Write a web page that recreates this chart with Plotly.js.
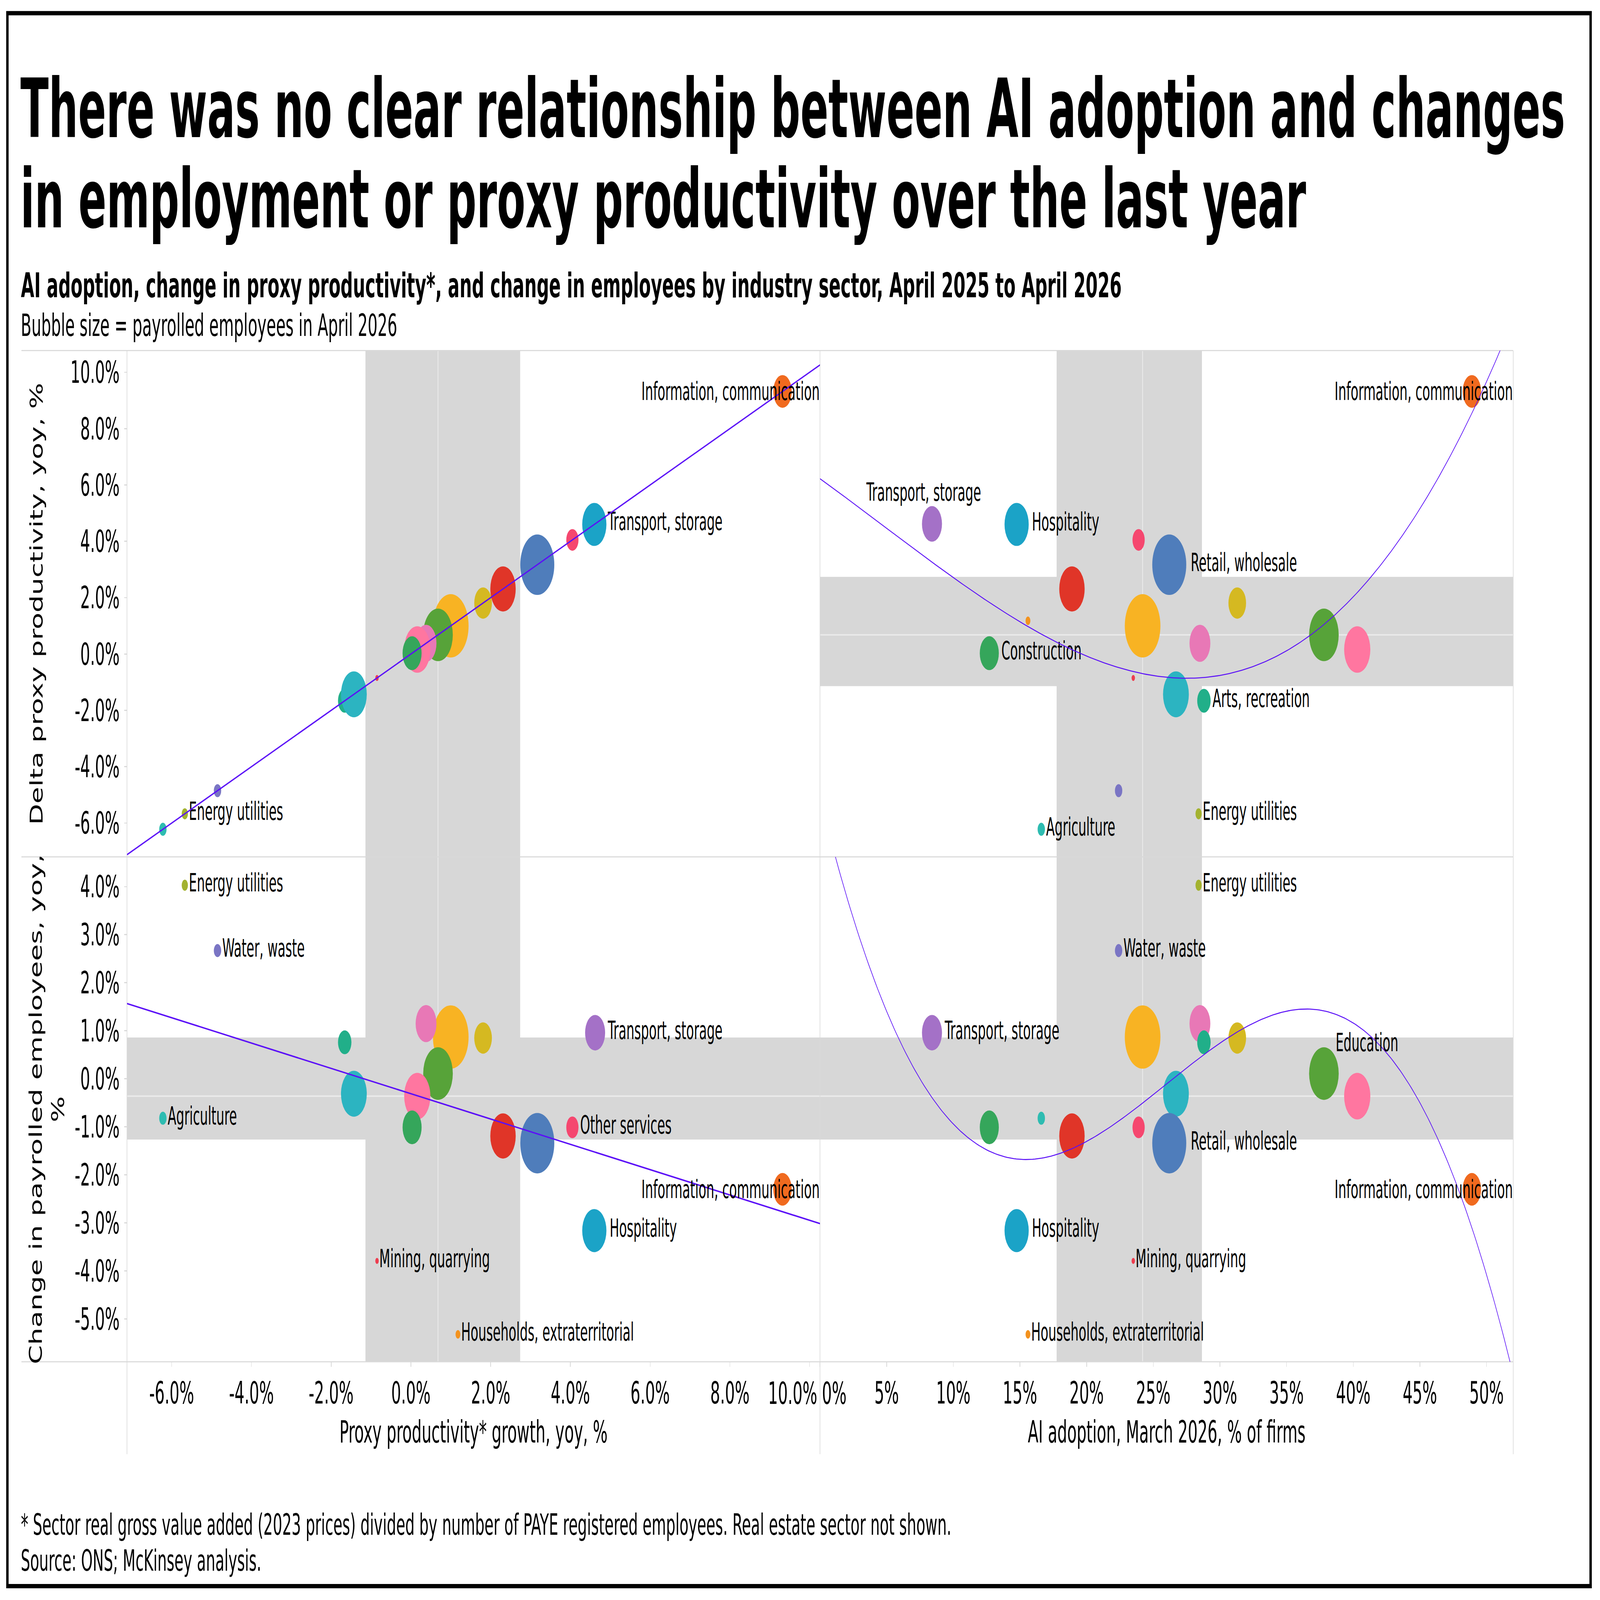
<!DOCTYPE html>
<html>
<head>
<meta charset="utf-8">
<script src="https://cdn.plot.ly/plotly-3.0.1.min.js"></script>
<style>
  html, body { margin: 0; background: #fff; overflow: hidden; }
  #chart { width: 8000px; height: 4500px; transform-origin: 0 0; }
</style>
</head>
<body>
<div id="chart"></div>
<script>
// ---- data ----
const sectors = [
  "Households, extraterritorial", "Health, social work", "Education", "Public administration",
  "Professional, scientific", "Construction", "Arts, recreation", "Administrative, support",
  "Retail, wholesale", "Manufacturing", "Finance, insurance", "Transport, storage",
  "Hospitality", "Other services", "Information, communication", "Mining, quarrying",
  "Water, waste", "Energy utilities", "Agriculture"
];
// proxy productivity growth, yoy, %
const prodGrowth = [1.18, 1.00, 0.68, 0.38, 0.16, 0.03, -1.66, -1.43, 3.17, 2.31,
  1.81, 4.62, 4.60, 4.05, 9.32, -0.85, -4.85, -5.67, -6.22];
// AI adoption, March 2026, % of firms
const aiAdoption = [15.6, 24.2, 37.8, 28.5, 40.3, 12.7, 28.8, 26.7, 26.2, 18.9,
  31.3, 8.4, 14.75, 23.9, 48.9, 23.5, 22.4, 28.4, 16.6];
// change in payrolled employees, yoy, %
const empChange = [-5.32, 0.87, 0.11, 1.15, -0.36, -1.01, 0.76, -0.31, -1.34, -1.19,
  0.85, 0.96, -3.16, -1.01, -2.30, -3.79, 2.67, 4.03, -0.82];
// payrolled employees, April 2026, thousands (bubble size)
const employees = [90, 4940, 3410, 1690, 2670, 1410, 700, 2590, 4500, 2510,
  1210, 1560, 2280, 580, 1320, 45, 210, 150, 210];
const colors = ["#f3921e", "#f8b323", "#57a339", "#e878b6", "#ff76a0", "#35a65b", "#21af89", "#2cb4c1",
  "#4f7dbb", "#e03528", "#d5b921", "#a471c7", "#1ba3c7", "#f5476f", "#f06a1f", "#ee3d4f",
  "#7a75c4", "#a3b22f", "#2ebcb1"];

// labelled sectors per panel
const labelsTopLeft = ["Information, communication", "Transport, storage", "Energy utilities"];
const labelsTopRight = ["Information, communication", "Transport, storage", "Hospitality", "Retail, wholesale",
  "Construction", "Arts, recreation", "Agriculture", "Energy utilities"];
const labelsBottomLeft = ["Energy utilities", "Water, waste", "Agriculture", "Transport, storage", "Other services",
  "Information, communication", "Hospitality", "Mining, quarrying", "Households, extraterritorial"];
const labelsBottomRight = ["Energy utilities", "Water, waste", "Transport, storage", "Education", "Retail, wholesale",
  "Information, communication", "Hospitality", "Mining, quarrying", "Households, extraterritorial"];

// tick values
const prodTicks = [-6, -4, -2, 0, 2, 4, 6, 8, 10];
const aiTicks = [0, 5, 10, 15, 20, 25, 30, 35, 40, 45, 50];
const empTicks = [-5, -4, -3, -2, -1, 0, 1, 2, 3, 4];

// ---- layout helpers (everything laid out on an 8000x4500 canvas) ----
const W = 8000, H = 4500;
const FONT = '"DejaVu Sans Condensed", "DejaVu Sans", sans-serif';
const px = x => x / W;
const py = y => 1 - y / H;

const colLeft = [px(635), px(4100)];
const colRight = [px(4100), px(7566)];
const rowTop = [py(2410), py(986)];
const rowBottom = [py(3830), py(2410)];

const prodRange = [-7.12, 10.26];
const aiRange = [0, 52];
const prodYRange = [-7.2, 10.77];
const empRange = [-5.89, 4.62];

const LINE_GREY = "#d9d9d9";
const BAND = "#d7d7d7";
const MEDIAN = "#ebebeb";
const TREND = "#5b10f7";
const LABEL_SIZE = 70;
const labelFont = { family: FONT, size: LABEL_SIZE, color: "#000" };

function quantile(values, p) {
  const s = values.slice().sort((a, b) => a - b);
  const h = (s.length - 1) * p;
  const lo = Math.floor(h);
  return lo + 1 < s.length ? s[lo] + (h - lo) * (s[lo + 1] - s[lo]) : s[lo];
}

// least squares polynomial fit, returns coefficients c0..cdeg
function polyfit(xs, ys, deg) {
  const n = deg + 1;
  const A = Array.from({ length: n }, () => new Array(n + 1).fill(0));
  for (let k = 0; k < xs.length; k++) {
    for (let i = 0; i < n; i++) {
      for (let j = 0; j < n; j++) A[i][j] += Math.pow(xs[k], i + j);
      A[i][n] += Math.pow(xs[k], i) * ys[k];
    }
  }
  for (let c = 0; c < n; c++) {
    let p = c;
    for (let r = c + 1; r < n; r++) if (Math.abs(A[r][c]) > Math.abs(A[p][c])) p = r;
    [A[c], A[p]] = [A[p], A[c]];
    for (let r = 0; r < n; r++) {
      if (r === c) continue;
      const f = A[r][c] / A[c][c];
      for (let k = c; k <= n; k++) A[r][k] -= f * A[c][k];
    }
  }
  return A.map((row, i) => row[n] / row[i]);
}
const polyval = (c, x) => c.reduce((acc, ci, i) => acc + ci * Math.pow(x, i), 0);

// where a bubble label goes: a textposition, or an annotation spec
function placement(panel, name) {
  if (name === "Information, communication") return { edge: true };
  if (panel === "TR" && name === "Transport, storage") return { xanchor: "center", xshift: -41, yshift: 89 };
  if (panel === "BR" && name === "Education") return { xanchor: "left", xshift: 56, yshift: 87 };
  return "middle right";
}

const panels = [
  { id: "TL", xa: "x", ya: "y", xs: prodGrowth, ys: prodGrowth, deg: 1, width: 4.2, labels: labelsTopLeft, xr: prodRange, xBand: prodGrowth, yBand: null },
  { id: "TR", xa: "x2", ya: "y2", xs: aiAdoption, ys: prodGrowth, deg: 3, width: 2.8, labels: labelsTopRight, xr: aiRange, xBand: aiAdoption, yBand: prodGrowth },
  { id: "BL", xa: "x3", ya: "y3", xs: prodGrowth, ys: empChange, deg: 1, width: 4.2, labels: labelsBottomLeft, xr: prodRange, xBand: prodGrowth, yBand: empChange },
  { id: "BR", xa: "x4", ya: "y4", xs: aiAdoption, ys: empChange, deg: 3, width: 2.8, labels: labelsBottomRight, xr: aiRange, xBand: aiAdoption, yBand: empChange }
];

const traces = [];
const annotations = [];
const bandShapes = [];
const medianShapes = [];

panels.forEach(p => {
  const text = sectors.map(s => (p.labels.includes(s) && typeof placement(p.id, s) === "string" ? s : ""));
  const textpos = sectors.map(s => (typeof placement(p.id, s) === "string" ? placement(p.id, s) : "middle right"));

  traces.push({
    type: "scatter", mode: "markers+text", xaxis: p.xa, yaxis: p.ya,
    x: p.xs, y: p.ys, text: text, textposition: textpos,
    customdata: sectors, hovertemplate: "%{customdata}<extra></extra>",
    textfont: labelFont,
    marker: { size: employees, sizemode: "area", sizeref: 0.3114, color: colors, opacity: 1, line: { width: 0 } },
    cliponaxis: false, showlegend: false
  });

  const coef = polyfit(p.xs, p.ys, p.deg);
  const cx = [], cy = [];
  const steps = p.deg === 1 ? 1 : 300;
  for (let i = 0; i <= steps; i++) {
    const x = p.xr[0] + (p.xr[1] - p.xr[0]) * i / steps;
    cx.push(x);
    cy.push(polyval(coef, x));
  }
  traces.push({
    type: "scatter", mode: "lines", xaxis: p.xa, yaxis: p.ya, x: cx, y: cy,
    line: { color: TREND, width: p.width }, hoverinfo: "skip", showlegend: false
  });

  // labels that Plotly's textposition cannot place
  p.labels.forEach(s => {
    const pl = placement(p.id, s);
    if (typeof pl === "string") return;
    const i = sectors.indexOf(s);
    if (pl.edge) {
      // pinned to the right edge of the panel, running over its bubble
      annotations.push({ xref: p.xa + " domain", yref: p.ya, x: 1, y: p.ys[i], xanchor: "right", yanchor: "middle",
        text: s, showarrow: false, font: labelFont });
    } else {
      annotations.push({ xref: p.xa, yref: p.ya, x: p.xs[i], y: p.ys[i], xanchor: pl.xanchor, yanchor: "middle",
        xshift: pl.xshift, yshift: pl.yshift, text: s, showarrow: false, font: labelFont });
    }
  });

  // interquartile bands and medians
  const xq = [quantile(p.xBand, 0.25), quantile(p.xBand, 0.5), quantile(p.xBand, 0.75)];
  bandShapes.push({ type: "rect", layer: "below", xref: p.xa, yref: p.ya + " domain", x0: xq[0], x1: xq[2], y0: 0, y1: 1, fillcolor: BAND, line: { width: 0 } });
  medianShapes.push({ type: "line", layer: "below", xref: p.xa, yref: p.ya + " domain", x0: xq[1], x1: xq[1], y0: 0, y1: 1, line: { color: MEDIAN, width: 4 } });
  if (p.yBand) {
    const yq = [quantile(p.yBand, 0.25), quantile(p.yBand, 0.5), quantile(p.yBand, 0.75)];
    bandShapes.push({ type: "rect", layer: "below", xref: p.xa + " domain", yref: p.ya, x0: 0, x1: 1, y0: yq[0], y1: yq[2], fillcolor: BAND, line: { width: 0 } });
    medianShapes.push({ type: "line", layer: "below", xref: p.xa + " domain", yref: p.ya, x0: 0, x1: 1, y0: yq[1], y1: yq[1], line: { color: MEDIAN, width: 4 } });
  }
});

// empty traces so the overlay axes carrying the two edge tick labels get drawn
traces.push({ type: "scatter", mode: "markers", x: [], y: [], xaxis: "x5", yaxis: "y3", showlegend: false, hoverinfo: "skip" });
traces.push({ type: "scatter", mode: "markers", x: [], y: [], xaxis: "x6", yaxis: "y4", showlegend: false, hoverinfo: "skip" });

// panel frame lines
const gridShapes = [];
[986, 2410, 3830].forEach(y => gridShapes.push({ type: "line", layer: "below", xref: "paper", yref: "paper", x0: px(107), x1: px(7566), y0: py(y), y1: py(y), line: { color: LINE_GREY, width: 3 } }));
[635, 4100, 7566].forEach(x => gridShapes.push({ type: "line", layer: "below", xref: "paper", yref: "paper", x0: px(x), x1: px(x), y0: py(986), y1: py(4090), line: { color: LINE_GREY, width: 3 } }));
const frame = { type: "rect", layer: "above", xref: "paper", yref: "paper", x0: px(37), x1: px(7953), y0: py(4461), y1: py(37), line: { color: "#000", width: 12 }, fillcolor: "rgba(0,0,0,0)" };

const pctLabel = (v, digits) => v.toFixed(digits) + "%";
const lastProd = prodTicks[prodTicks.length - 1];
const firstAi = aiTicks[0];

const tickFont = { family: FONT, size: 86, color: "#000" };
const baseAxis = { showgrid: false, zeroline: false, showline: false, ticks: "", showticklabels: false, fixedrange: true };
const tickedAxis = Object.assign({}, baseAxis, { ticks: "outside", ticklen: 13, tickwidth: 3, tickcolor: LINE_GREY, showticklabels: true, tickfont: tickFont });

const textFont = { family: FONT, size: 86, color: "#000" };
const noteFont = { family: FONT, size: 82, color: "#000" };
const note = (x, y, text, extra) => Object.assign({ xref: "paper", yref: "paper", x: x, y: y, xanchor: "left", yanchor: "middle", showarrow: false, text: text, font: textFont }, extra || {});

annotations.push(
  note(px(102), py(803), "AI adoption, change in proxy productivity*, and change in employees by industry sector, April 2025 to April 2026",
    { font: { family: FONT, size: 96, color: "#000", weight: "bold" } }),
  note(px(102), py(915), "Bubble size = payrolled employees in April 2026"),
  note(px(183), py(1698), "Delta proxy productivity, yoy, %", { xanchor: "center", textangle: -90 }),
  note(px(235), py(3120), "Change in payrolled employees, yoy,<br>%", { xanchor: "center", textangle: -90 }),
  note(px(2367), py(4027), "Proxy productivity* growth, yoy, %", { xanchor: "center" }),
  note(px(5833), py(4027), "AI adoption, March 2026, % of firms", { xanchor: "center" }),
  note(px(102), py(4288), "* Sector real gross value added (2023 prices) divided by number of PAYE registered employees. Real estate sector not shown.", { font: noteFont }),
  note(px(102), py(4389), "Source: ONS; McKinsey analysis.", { font: noteFont })
);

const layout = {
  width: W, height: H,
  margin: { l: 0, r: 0, t: 0, b: 0, pad: 0 },
  paper_bgcolor: "#fff", plot_bgcolor: "rgba(0,0,0,0)",
  font: { family: FONT, color: "#000" },
  showlegend: false,
  title: {
    text: "There was no clear relationship between AI adoption and changes<br>in employment or proxy productivity over the last year",
    x: px(102), xanchor: "left", xref: "paper", y: py(386), yanchor: "top", yref: "container",
    font: { family: FONT, size: 230, color: "#000", weight: "bold" }
  },
  xaxis: Object.assign({}, baseAxis, { domain: colLeft, range: prodRange, anchor: "y" }),
  yaxis: Object.assign({}, tickedAxis, { domain: rowTop, range: prodYRange, anchor: "x",
    tickvals: prodTicks, ticktext: prodTicks.map(v => pctLabel(v, 1)), ticklabelstandoff: 6 }),
  xaxis2: Object.assign({}, baseAxis, { domain: colRight, range: aiRange, anchor: "y2" }),
  yaxis2: Object.assign({}, baseAxis, { domain: rowTop, range: prodYRange, anchor: "x2" }),
  xaxis3: Object.assign({}, tickedAxis, { domain: colLeft, range: prodRange, anchor: "y3",
    tickvals: prodTicks, ticktext: prodTicks.map(v => (v === lastProd ? "" : pctLabel(v, 1))), ticklabelstandoff: 0 }),
  yaxis3: Object.assign({}, tickedAxis, { domain: rowBottom, range: empRange, anchor: "x3",
    tickvals: empTicks, ticktext: empTicks.map(v => pctLabel(v, 1)), ticklabelstandoff: 6 }),
  xaxis4: Object.assign({}, tickedAxis, { domain: colRight, range: aiRange, anchor: "y4",
    tickvals: aiTicks, ticktext: aiTicks.map(v => (v === firstAi ? "" : pctLabel(v, 0))), ticklabelstandoff: 0 }),
  yaxis4: Object.assign({}, baseAxis, { domain: rowBottom, range: empRange, anchor: "x4" }),
  // the two labels where the columns meet are pulled inwards, as in the original
  xaxis5: Object.assign({}, tickedAxis, { overlaying: "x3", anchor: "y3", range: prodRange, ticks: "",
    tickvals: [lastProd], ticktext: [pctLabel(lastProd, 1)], ticklabelposition: "outside left", ticklabelshift: 38, ticklabelstandoff: 32 }),
  xaxis6: Object.assign({}, tickedAxis, { overlaying: "x4", anchor: "y4", range: aiRange, ticks: "",
    tickvals: [firstAi], ticktext: [pctLabel(firstAi, 0)], ticklabelposition: "outside right", ticklabelshift: 10, ticklabelstandoff: 32 }),
  shapes: bandShapes.concat(medianShapes, gridShapes, [frame]),
  annotations: annotations
};

// the 8000x4500 canvas is mapped onto whatever window we are given
const chartDiv = document.getElementById("chart");
const sx = Math.min(1, window.innerWidth / W);
const sy = Math.min(1, window.innerHeight / H);
chartDiv.style.transform = "scale(" + sx + "," + sy + ")";

Plotly.newPlot(chartDiv, traces, layout, { staticPlot: true, displayModeBar: false }).then(gd => {
  // tighten the line spacing of the two-line headline
  const lines = gd.querySelectorAll(".gtitle tspan.line");
  if (lines.length > 1) lines[1].setAttribute("dy", "1.1em");
});
</script>
</body>
</html>
